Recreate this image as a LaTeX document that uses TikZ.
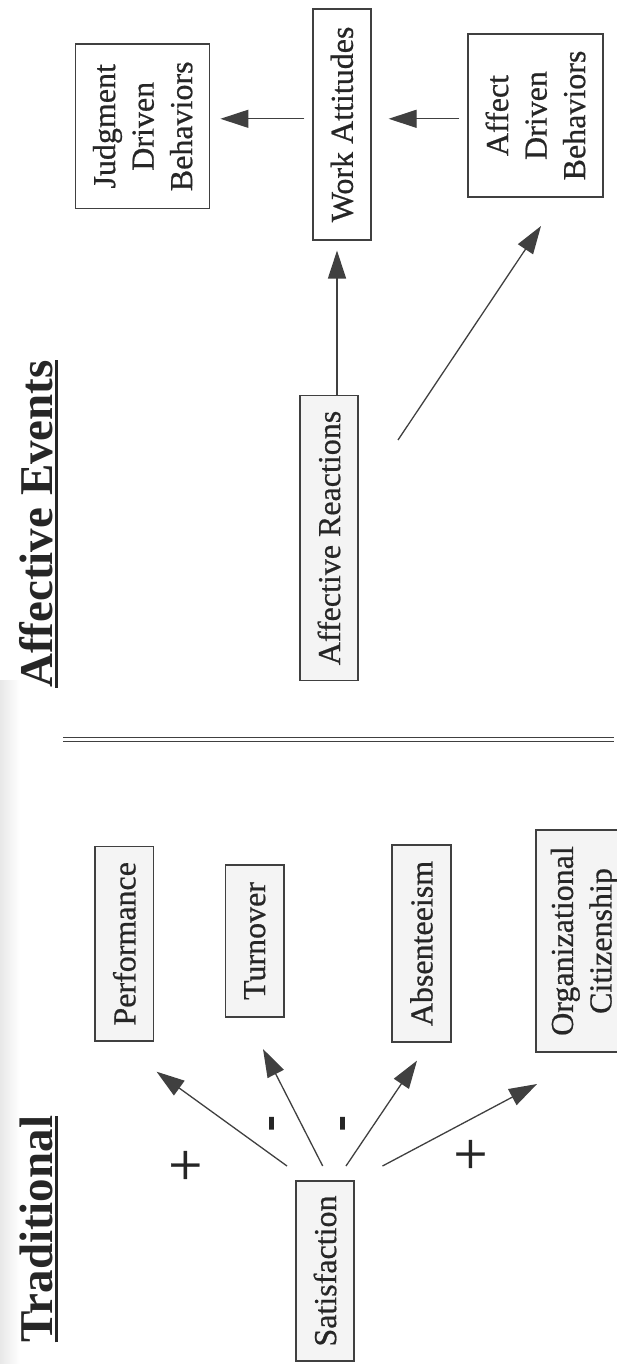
\documentclass[tikz,border=0pt]{standalone}
\usepackage{fontspec}
\setmainfont{Liberation Serif}
\newfontfamily\scanfont{Liberation Serif}[FakeBold=0.6]
\newfontfamily\heavyfont{Liberation Serif}[FakeBold=4]
\usetikzlibrary{arrows.meta,calc}
\definecolor{ink}{HTML}{262626}
\definecolor{linec}{HTML}{404040}
\definecolor{boxfill}{HTML}{F4F4F4}
\begin{document}
\begin{tikzpicture}[x=1pt,y=1pt,
  box/.style={draw=linec, line width=1.3pt, rotate=90, inner sep=0pt, align=center,
    text=ink, font=\scanfont\fontsize{32}{38.5}\selectfont},
  grey/.style={fill=boxfill},
  arr/.style={draw=linec, line width=1.3pt, -{Triangle[length=28pt,width=18pt]}},
  ttl/.style={rotate=90, anchor=base, text=ink, inner sep=0pt,
    font=\bfseries\fontsize{47}{47}\selectfont},
  uline/.style={draw=ink, line width=3pt},
  sgn/.style={rotate=90, text=ink, inner sep=0pt, font=\scanfont\fontsize{60}{60}\selectfont},
  neg/.style={rotate=90, text=ink, inner sep=0pt, font=\heavyfont\fontsize{42}{42}\selectfont},
  rule/.style={draw=linec, line width=1.3pt}
]
\useasboundingbox (0,0) rectangle (617,-1364);
\fill[white] (0,0) rectangle (617,-1364);
\shade[left color=black!9, right color=white] (0,-680) rectangle (20,-1364);

% titles
\node[ttl] (tae) at (52,-524) {Affective Events};
\node[ttl] (ttr) at (52,-1229) {Traditional};
\draw[uline] ($(tae.base west)+(4,0)$) -- ($(tae.base east)+(4,0)$);
\draw[uline] ($(ttr.base west)+(4,0)$) -- ($(ttr.base east)+(4,0)$);

% affective events boxes
\node[box, minimum width=164.6pt, minimum height=134.2pt] (jdb) at (142.7,-126.3) {Judgment\\Driven\\Behaviors};
\node[box, minimum width=231pt, minimum height=58pt] (wa) at (342,-124.4) {Work Attitudes};
\node[box, minimum width=163pt, minimum height=135pt] (adb) at (535.5,-115.5) {Affect\\Driven\\Behaviors};
\node[box, grey, minimum width=284.5pt, minimum height=58pt] (ar) at (329,-538) {Affective Reactions};

\coordinate (row) at (0,-118.8);
\coordinate (col) at (337,0);
\draw[arr, shorten <=8pt, shorten >=10pt] (wa.north |- row) -- (jdb.south |- row);
\draw[arr, shorten <=8pt, shorten >=17pt] (adb.north |- row) -- (wa.south |- row);
\draw[arr, shorten >=10pt] (ar.east -| col) -- (wa.west -| col);
\coordinate (arD) at (398,-440);
\coordinate (adbT) at (541,-226);
\draw[arr] (arD) -- (adbT);

% separator
\coordinate (dlA) at (63,-737.6);
\coordinate (dlB) at (614,-737.6);
\coordinate (dlC) at (63,-741.4);
\coordinate (dlD) at (614,-741.4);
\draw[rule] (dlA) -- (dlB);
\draw[rule] (dlC) -- (dlD);

% traditional boxes
\node[box, grey, minimum width=194.4pt, minimum height=58.5pt] (perf) at (124.3,-943.8) {Performance};
\node[box, grey, minimum width=152pt, minimum height=58.5pt] (turn) at (254.8,-941) {Turnover};
\node[box, grey, minimum width=197pt, minimum height=59pt] (abs) at (421.5,-943.5) {Absenteeism};
\node[box, grey, minimum width=222pt, minimum height=97pt] (oc) at (584.5,-941) {Organizational\\Citizenship};
\node[box, grey, minimum width=180pt, minimum height=58pt] (sat) at (325,-1271) {Satisfaction};

\coordinate (s1) at (287,-1166);
\coordinate (s2) at (322.7,-1166);
\coordinate (s3) at (346,-1166);
\coordinate (s4) at (382.5,-1166);
\coordinate (perfT) at (156.6,-1071.7);
\coordinate (turnT) at (263,-1049);
\coordinate (absT) at (417,-1060.6);
\coordinate (ocT) at (537,-1084);
\draw[arr] (s1) -- (perfT);
\draw[arr] (s2) -- (turnT);
\draw[arr] (s3) -- (absT);
\draw[arr] (s4) -- (ocT);

\node[sgn] (pl1) at (188.3,-1165) {+};
\node[sgn] (pl2) at (473.4,-1154) {+};
\node[neg] (mi1) at (275.7,-1123.3) {-};
\node[neg] (mi2) at (346.7,-1123.3) {-};
\end{tikzpicture}
\end{document}
